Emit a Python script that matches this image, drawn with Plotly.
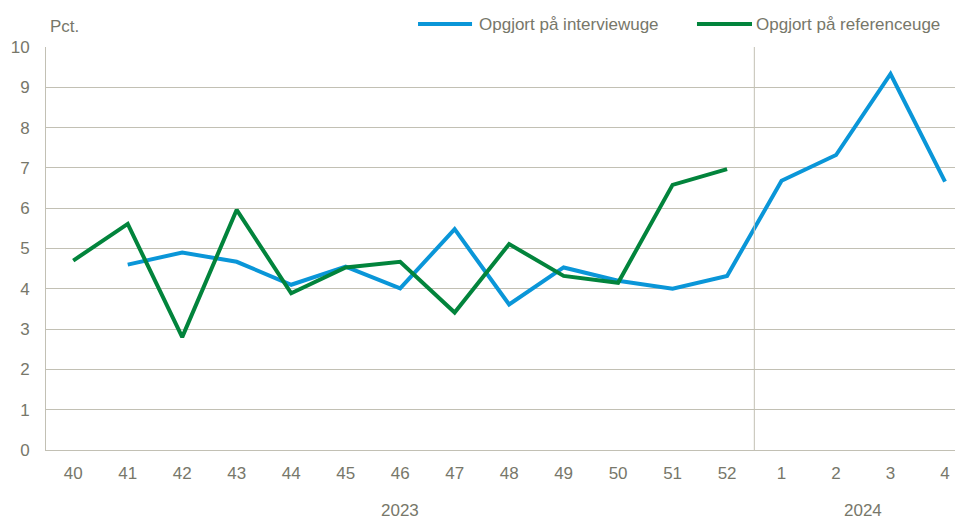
import plotly.graph_objects as go

weeks = ["40", "41", "42", "43", "44", "45", "46", "47", "48", "49", "50", "51", "52", "1", "2", "3", "4"]
interview = [None, 4.6, 4.9, 4.67, 4.1, 4.55, 4.01, 5.48, 3.61, 4.53, 4.2, 4.0, 4.32, 6.68, 7.32, 9.33, 6.66]
reference = [4.7, 5.61, 2.8, 5.96, 3.89, 4.53, 4.67, 3.41, 5.11, 4.32, 4.15, 6.58, 6.97, None, None, None, None]
yticks = [0, 1, 2, 3, 4, 5, 6, 7, 8, 9, 10]
years = ["2023", "2024"]
series_names = ["Opgjort på interviewuge", "Opgjort på referenceuge"]

TXT = "#77776a"
GRID = "#c2c0b4"
BLUE = "#0a96d8"
GREEN = "#02843c"
FONT = "Liberation Sans, Arial, sans-serif"
FS = 17
x = list(range(len(weeks)))

fig = go.Figure()
fig.add_trace(go.Scatter(x=x, y=interview, mode="lines", name=series_names[0],
                         line=dict(color=BLUE, width=4)))
fig.add_trace(go.Scatter(x=x, y=reference, mode="lines", name=series_names[1],
                         line=dict(color=GREEN, width=4)))

fig.add_shape(type="line", xref="x", yref="y", x0=12.5, x1=12.5, y0=0, y1=10,
              line=dict(color=GRID, width=1))

# legend drawn manually (long swatches as in the reference)
LEG_Y = 1.057
for (sx0, sx1, tx), col, name in zip([(0.4057, 0.4646, 0.4700), (0.7099, 0.7699, 0.7721)],
                                      [BLUE, GREEN], series_names):
    fig.add_shape(type="line", xref="paper", yref="paper", x0=sx0, x1=sx1, y0=LEG_Y, y1=LEG_Y,
                  line=dict(color=col, width=4))
    fig.add_annotation(text=name, xref="paper", yref="paper", x=tx, y=LEG_Y,
                       xanchor="left", yanchor="middle", showarrow=False,
                       font=dict(family=FONT, size=FS, color=TXT))

fig.add_annotation(text="Pct.", xref="paper", yref="paper", x=0.002, y=1.05,
                   xanchor="left", yanchor="middle", showarrow=False,
                   font=dict(family=FONT, size=FS, color=TXT))
fig.add_annotation(text=years[0], xref="x", yref="paper", x=6, y=-0.151,
                   xanchor="center", yanchor="middle", showarrow=False,
                   font=dict(family=FONT, size=FS, color=TXT))
fig.add_annotation(text=years[1], xref="x", yref="paper", x=14.5, y=-0.151,
                   xanchor="center", yanchor="middle", showarrow=False,
                   font=dict(family=FONT, size=FS, color=TXT))

fig.update_layout(
    width=955, height=512,
    margin=dict(l=38, r=0, t=39, b=70, pad=0, autoexpand=False),
    paper_bgcolor="white", plot_bgcolor="white",
    font=dict(family=FONT, size=FS, color=TXT),
    showlegend=False,
    xaxis=dict(range=[-0.5, 16.33], tickmode="array", tickvals=x, ticktext=weeks,
               automargin=False,
               showgrid=False, zeroline=False, showline=True, linecolor=GRID, linewidth=1,
               ticks="outside", ticklen=8, tickcolor="rgba(0,0,0,0)",
               tickfont=dict(family=FONT, size=FS, color=TXT)),
    yaxis=dict(range=[0, 10], tickmode="array", tickvals=yticks, automargin=False,
               showgrid=True, gridcolor=GRID, gridwidth=1, zeroline=False,
               showline=True, linecolor=GRID, linewidth=1,
               ticks="outside", ticklen=12, tickcolor="rgba(0,0,0,0)",
               tickfont=dict(family=FONT, size=FS, color=TXT)),
)

fig.write_html("out.html")
